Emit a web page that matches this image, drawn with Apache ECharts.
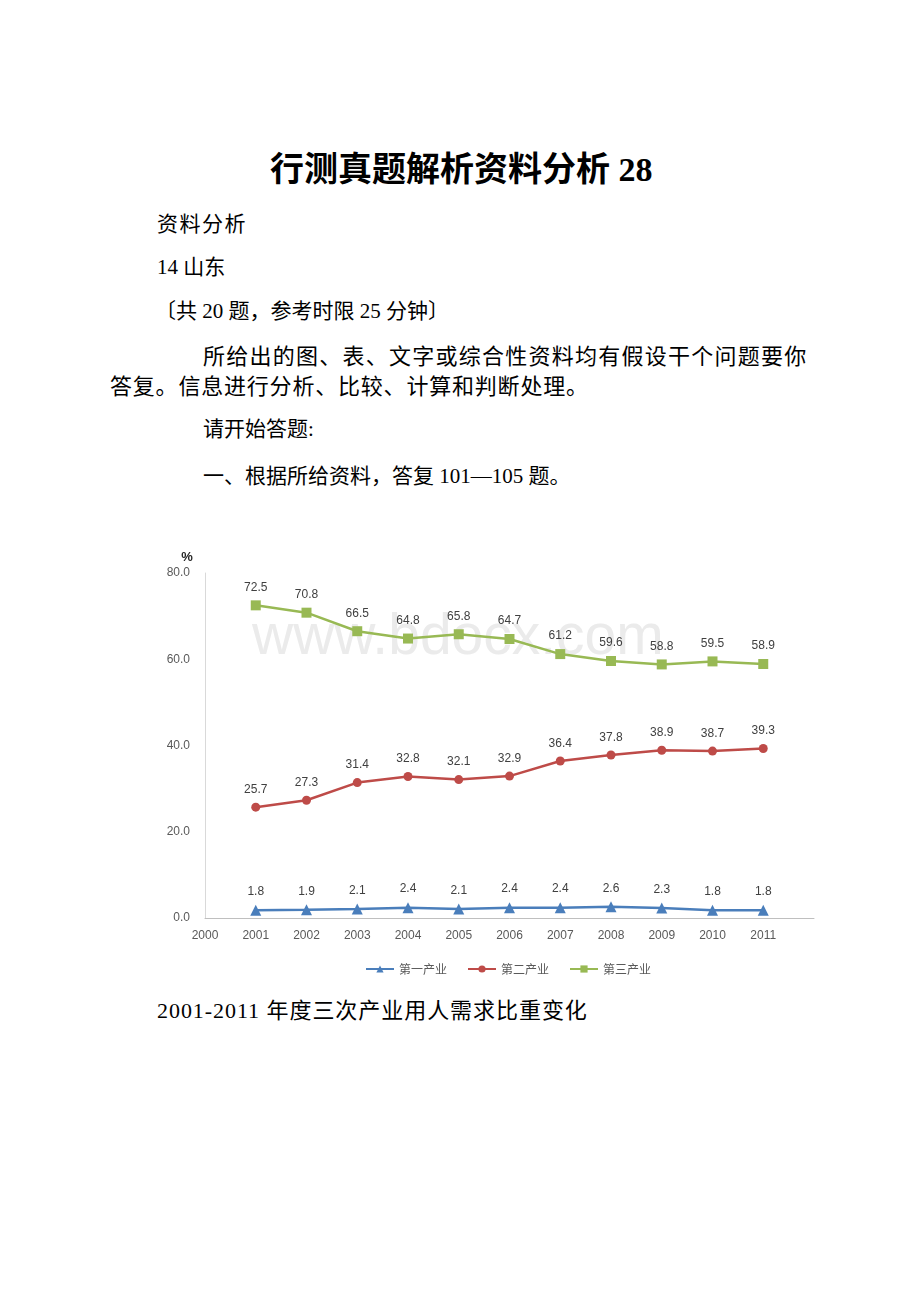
<!DOCTYPE html>
<html>
<head>
<meta charset="utf-8">
<script src="https://cdn.jsdelivr.net/npm/echarts@6/dist/echarts.min.js"></script>
<style>
  html, body { margin: 0; padding: 0; background: #fff; }
  body { width: 920px; height: 1302px; position: relative; overflow: hidden;
         font-family: "Liberation Serif", "Noto Sans CJK SC", serif; color: #000; }
  .t { position: absolute; white-space: nowrap; line-height: 1; }
  #chart { position: absolute; left: 0; top: 0; width: 920px; height: 1302px; z-index: 1; }
  #wm { position: absolute; left: 252px; top: 601px; font-family: "Liberation Sans", Arial, sans-serif;
        font-size: 57px; color: #ebebeb; z-index: 0; letter-spacing: 0px; }
</style>
</head>
<body>
<div class="t" style="left:270px; top:153px; font-size:34px; font-weight:bold;">行测真题解析资料分析 28</div>
<div class="t" style="left:157px; top:214px; font-size:21px; letter-spacing:1.5px;">资料分析</div>
<div class="t" style="left:157px; top:257px; font-size:21px;">14 山东</div>
<div class="t" style="left:155px; top:301px; font-size:21px;">〔共 20 题，参考时限 25 分钟〕</div>
<div class="t" style="left:203px; top:346px; font-size:22px; letter-spacing:1.25px;">所给出的图、表、文字或综合性资料均有假设干个问题要你</div>
<div class="t" style="left:110px; top:376px; font-size:22px; letter-spacing:0.8px;">答复。信息进行分析、比较、计算和判断处理。</div>
<div class="t" style="left:203px; top:419px; font-size:21px;">请开始答题:</div>
<div class="t" style="left:203px; top:466px; font-size:21px;">一、根据所给资料，答复 101—105 题。</div>
<div class="t" style="left:157px; top:1000px; font-size:22px; letter-spacing:0.95px;">2001-2011 年度三次产业用人需求比重变化</div>
<div id="wm">www.bdocx.com</div>
<div id="chart"></div>
<script>
const years = [2001, 2002, 2003, 2004, 2005, 2006, 2007, 2008, 2009, 2010, 2011];
const primary = [1.8, 1.9, 2.1, 2.4, 2.1, 2.4, 2.4, 2.6, 2.3, 1.8, 1.8];
const secondary = [25.7, 27.3, 31.4, 32.8, 32.1, 32.9, 36.4, 37.8, 38.9, 38.7, 39.3];
const tertiary = [72.5, 70.8, 66.5, 64.8, 65.8, 64.7, 61.2, 59.6, 58.8, 59.5, 58.9];
const seriesNames = ['第一产业', '第二产业', '第三产业'];
const yTicks = [0, 20, 40, 60, 80];

const pair = arr => years.map((y, i) => [y, arr[i]]);
const lbl = {
  show: true, position: 'top', distance: 7, color: '#404040', fontSize: 12,
  fontFamily: 'Liberation Sans, Arial, sans-serif',
  formatter: p => p.value[1].toFixed(1)
};
function mk(name, data, color, symbol, size) {
  return {
    name, type: 'line', data: pair(data), symbol, symbolSize: size,
    lineStyle: { color, width: 2.5 }, itemStyle: { color }, label: lbl,
    emphasis: { disabled: true }
  };
}
const chart = echarts.init(document.getElementById('chart'), null, { renderer: 'canvas' });
chart.setOption({
  animation: false,
  grid: { left: 205, right: 106, top: 573, bottom: 384, containLabel: false },
  legend: {
    left: 360, top: 958, itemWidth: 28, itemHeight: 9, itemGap: 20,
    textStyle: { color: '#595959', fontSize: 12, fontFamily: 'Noto Sans CJK SC' },
    data: seriesNames
  },
  xAxis: {
    type: 'value', min: 2000, max: 2012, interval: 1,
    axisLine: { show: true, lineStyle: { color: '#bfbfbf', width: 1 } },
    axisTick: { show: false }, splitLine: { show: false },
    axisLabel: { color: '#595959', fontSize: 12, margin: 12,
      fontFamily: 'Liberation Sans, Arial, sans-serif',
      formatter: v => (v === 2012 ? '' : String(v)) }
  },
  yAxis: {
    type: 'value', min: yTicks[0], max: yTicks[yTicks.length - 1], interval: 20,
    name: '%', nameGap: 9,
    nameTextStyle: { color: '#262626', fontSize: 13, fontWeight: 'bold', padding: [0, 36, 0, 0],
      fontFamily: 'Liberation Sans, Arial, sans-serif' },
    axisLine: { show: true, lineStyle: { color: '#d9d9d9', width: 1 } },
    axisTick: { show: false }, splitLine: { show: false },
    axisLabel: { color: '#595959', fontSize: 12, margin: 15,
      fontFamily: 'Liberation Sans, Arial, sans-serif',
      formatter: v => v.toFixed(1) }
  },
  series: [
    mk(seriesNames[0], primary, '#4a7ebb', 'triangle', 11),
    mk(seriesNames[1], secondary, '#be4b48', 'circle', 9),
    mk(seriesNames[2], tertiary, '#98b954', 'rect', 10)
  ]
});
</script>
</body>
</html>
